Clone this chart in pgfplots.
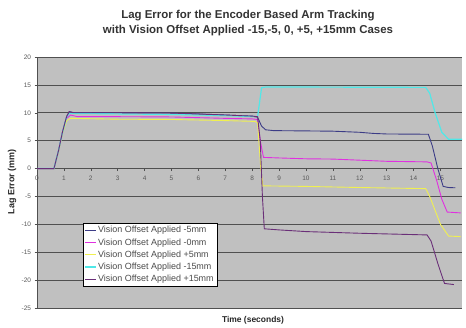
\documentclass[border=0pt]{standalone}
\usepackage{pgfplots}
\pgfplotsset{compat=1.18}
\usepackage{fontspec}
\setmainfont{Liberation Sans}

\definecolor{bgc}{HTML}{C0C0C0}
\definecolor{gridc}{HTML}{505050}
\definecolor{navyc}{HTML}{3C3C86}
\definecolor{magc}{HTML}{E030E0}
\definecolor{yelc}{HTML}{F0F050}
\definecolor{cyac}{HTML}{50E8E8}
\definecolor{purc}{HTML}{6A2F78}

\begin{document}
\begin{tikzpicture}
\path[use as bounding box] (-37bp,-20bp) rectangle (429bp,308bp);
\begin{axis}[
    at={(0,0)}, anchor=south west,
    scale only axis,
    width=425bp, height=251bp,
    xmin=0, xmax=15.8,
    ymin=-25, ymax=20,
    axis background/.style={fill=bgc},
    axis x line=middle,
    axis y line=left,
    axis line style={gridc, line width=0.6pt, -},
    hide obscured x ticks=false,
    xtick={0,1,...,15},
    ytick={-25,-20,...,20},
    x tick label style={anchor=north, yshift=-1bp},
    xtick align=outside,
    ytick align=outside,
    major tick length=2.5bp,
    tick style={gridc, line width=0.5pt},
    ymajorgrids,
    grid style={gridc, line width=0.7pt},
    ticklabel style={font=\fontsize{6.5}{7.5}\selectfont, text=black!65},
    /pgf/number format/assume math mode=true,
    legend style={at={(0.108,0.084)}, anchor=south west,
        draw=black, line width=0.5pt, fill=white,
        font=\fontsize{9}{10}\selectfont, text=black!70,
        row sep=0.2bp, inner sep=1.6bp},
    legend cell align=left,
    legend image post style={xscale=0.6},
    clip=false,
]
% -5 mm
\addplot[navyc, line width=0.9pt] coordinates {
 (0,0) (0.63,0) (0.8,3.2) (0.95,6.6) (1.1,9.3) (1.2,10.2) (1.35,10.05)
 (3,10) (5,9.95) (6,9.8) (7,9.6) (8,9.4) (8.2,9.2) (8.35,7.6) (8.5,6.95)
 (8.8,6.8) (10,6.75) (11,6.7) (12,6.5) (12.5,6.3) (13,6.2) (14.55,6.15)
 (14.7,4) (14.9,0) (15.1,-3.2) (15.3,-3.4) (15.55,-3.45)};
% 0 mm
\addplot[magc, line width=0.9pt] coordinates {
 (0,0) (0.63,0) (0.8,3.1) (0.95,6.5) (1.1,9.0) (1.25,9.6) (1.5,9.3)
 (3,9.3) (5,9.25) (7,9.0) (8,8.9) (8.2,8.8) (8.3,5) (8.42,2.0) (9,1.9)
 (10,1.75) (11,1.7) (12,1.5) (13,1.3) (14.5,1.2) (14.65,1.0) (14.85,-2)
 (15.05,-5.5) (15.25,-7.8) (15.75,-7.95)};
% +5 mm
\addplot[yelc, line width=0.9pt] coordinates {
 (0,0) (0.63,0) (0.8,3) (0.95,6.3) (1.1,8.6) (1.25,9.0) (3,8.85)
 (5,8.8) (7,8.6) (8.1,8.45) (8.2,8.2) (8.32,0) (8.4,-3.1) (10,-3.2)
 (12,-3.4) (14.45,-3.6) (14.6,-5) (15.0,-10) (15.3,-12.1) (15.75,-12.2)};
% -15 mm
\addplot[cyac, line width=1.2pt] coordinates {
 (0,0) (0.63,0) (0.8,3.2) (0.95,6.5) (1.1,9.2) (1.2,9.9) (3,9.8)
 (5,9.7) (7,9.5) (8.2,9.3) (8.35,14.5) (8.5,14.62) (11,14.6) (14.45,14.55)
 (14.6,13.5) (14.8,10) (15.05,6.5) (15.3,5.25) (15.8,5.25)};
% +15 mm
\addplot[purc, line width=0.9pt] coordinates {
 (0,0) (0.63,0) (0.8,3.2) (0.95,6.6) (1.1,9.3) (1.2,10.2) (1.35,10.0)
 (3,10.0) (5,9.95) (7,9.6) (8,9.4) (8.2,9.3) (8.3,5) (8.38,-5) (8.45,-10.8)
 (9,-11) (10,-11.3) (12,-11.6) (14.5,-11.9) (14.65,-13) (14.9,-17)
 (15.15,-20.6) (15.5,-20.8)};
\legend{Vision Offset Applied -5mm, Vision Offset Applied -0mm,
        Vision Offset Applied +5mm, Vision Offset Applied -15mm,
        Vision Offset Applied +15mm}
\end{axis}
\node[align=center, font=\bfseries\fontsize{11.5}{15}\selectfont, text=black!80]
  at (211bp,285bp) {Lag Error for the Encoder Based Arm Tracking\\with Vision Offset Applied -15,-5, 0, +5, +15mm Cases};
\node[font=\bfseries\fontsize{8.5}{9}\selectfont, text=black!85] at (216bp,-12bp) {Time (seconds)};
\node[rotate=90, font=\bfseries\fontsize{9}{10}\selectfont, text=black!85] at (-25bp,126bp) {Lag Error (mm)};
\end{tikzpicture}
\end{document}
